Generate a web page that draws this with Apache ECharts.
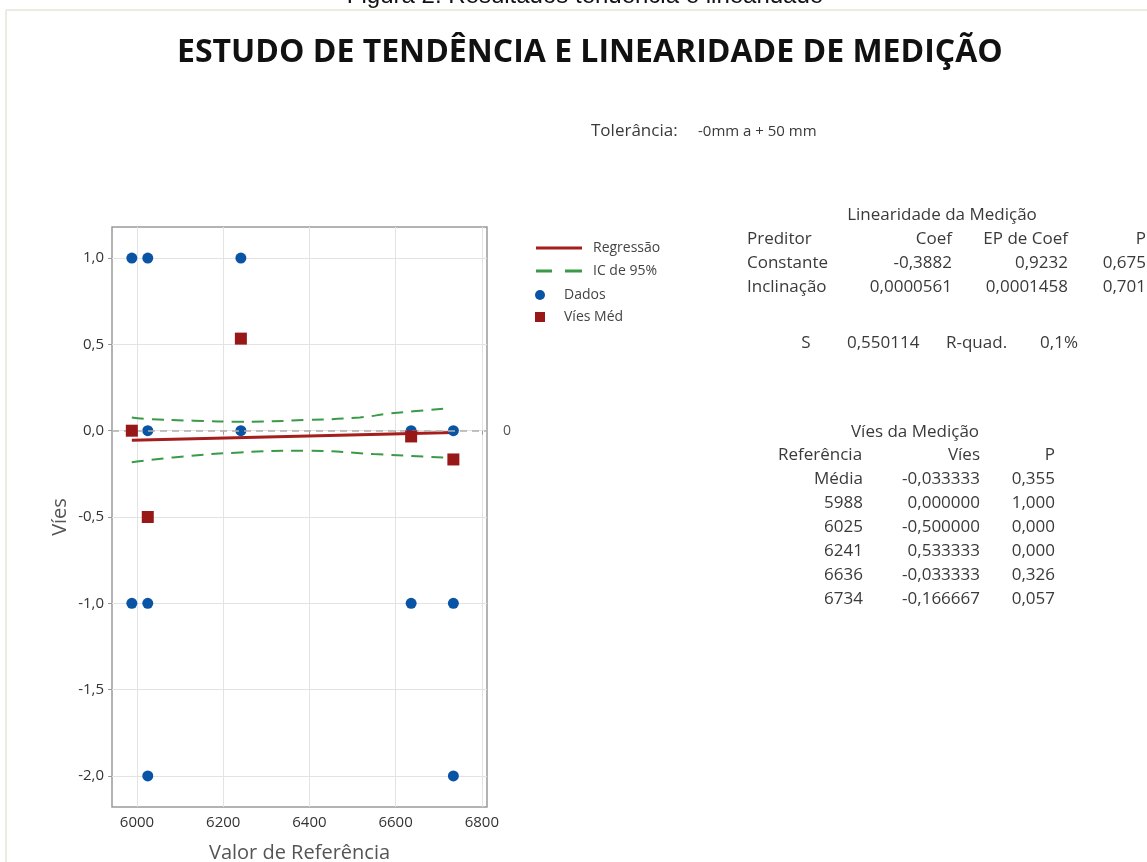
<!DOCTYPE html>
<html>
<head>
<meta charset="utf-8">
<script src="https://cdn.jsdelivr.net/npm/echarts@6/dist/echarts.min.js"></script>
<style>
  html, body { margin: 0; padding: 0; background: #fff; }
  #grafico { width: 1147px; height: 862px; }
</style>
</head>
<body>
<div id="grafico"></div>
<script>
// dados
var refValores = [5988, 6025, 6241, 6636, 6734]
var viesMedio = [0, -0.5, 0.533333, -0.033333, -0.166667]

var dadosX = [5988, 5988, 5988, 6025, 6025, 6025, 6025, 6241, 6241, 6636, 6636, 6734, 6734, 6734]
var dadosY = [1, 0, -1, 1, 0, -1, -2, 1, 0, 0, -1, 0, -1, -2]

// reta de regressao (pontas)
var regX = [5988, 6734]
var regY = [-0.055, -0.011]

// intervalo de confianca 95%
var icSupX = [5988, 6022, 6131, 6239, 6394, 6517, 6587, 6641, 6726]
var icSupY = [0.077, 0.068, 0.058, 0.052, 0.062, 0.077, 0.100, 0.112, 0.131]
var icInfX = [5988, 6084, 6239, 6394, 6548, 6726]
var icInfY = [-0.183, -0.155, -0.126, -0.116, -0.135, -0.158]

var ticksX = [6000, 6200, 6400, 6600, 6800]
var ticksY = [-2, -1.5, -1, -0.5, 0, 0.5, 1]

// tabelas de texto
var linCabecalho = ['Preditor', 'Coef', 'EP de Coef', 'P']
var linPreditor = ['Constante', 'Inclinação']
var linCoef = ['-0,3882', '0,0000561']
var linEP = ['0,9232', '0,0001458']
var linP = ['0,675', '0,701']

var viesRef = ['Média', '5988', '6025', '6241', '6636', '6734']
var viesVal = ['-0,033333', '0,000000', '-0,500000', '0,533333', '-0,033333', '-0,166667']
var viesP = ['0,355', '1,000', '0,000', '0,000', '0,326', '0,057']

function zip(a, b) {
  var r = []
  for (var i = 0; i < a.length; i++) r.push([a[i], b[i]])
  return r
}

var fonte = 'Open Sans'
var corTexto = '#3a3a3a'
var tam = 17

function txt(x, y, s, size, align, extra) {
  var o = {
    type: 'text', x: x, y: y, silent: true,
    style: { text: s, font: (size || tam) + 'px "' + fonte + '"', fill: corTexto, textAlign: align || 'left', textVerticalAlign: 'middle' }
  }
  if (extra) Object.assign(o.style, extra)
  return o
}

var graficos = []
// legenda da figura (cortada no topo) e moldura clara
graficos.push({
  type: 'text', x: 585, y: 8, silent: true,
  style: { text: 'Figura 2. Resultados tendência e linearidade', font: '24px "Liberation Sans"', fill: '#111', textAlign: 'center', textVerticalAlign: 'bottom' }
})
graficos.push({ type: 'rect', shape: { x: 0, y: 8, width: 1147, height: 5 }, style: { fill: '#fff' } })
graficos.push({ type: 'line', shape: { x1: 6, y1: 10, x2: 1147, y2: 10 }, style: { stroke: '#ecebe2', lineWidth: 2 } })
graficos.push({ type: 'line', shape: { x1: 6, y1: 10, x2: 6, y2: 862 }, style: { stroke: '#ecebe2', lineWidth: 2 } })
// tolerancia
graficos.push(txt(591, 131, 'Tolerância:', 17))
graficos.push(txt(698, 132, '-0mm a + 50 mm', 15))

// tabela linearidade
graficos.push(txt(942, 215, 'Linearidade da Medição', tam, 'center'))
graficos.push(txt(747, 239, linCabecalho[0]))
graficos.push(txt(952, 239, linCabecalho[1], tam, 'right'))
graficos.push(txt(1068, 239, linCabecalho[2], tam, 'right'))
graficos.push(txt(1146, 239, linCabecalho[3], tam, 'right'))
for (var i = 0; i < linPreditor.length; i++) {
  var yy = 263 + i * 24
  graficos.push(txt(747, yy, linPreditor[i]))
  graficos.push(txt(952, yy, linCoef[i], tam, 'right'))
  graficos.push(txt(1068, yy, linEP[i], tam, 'right'))
  graficos.push(txt(1146, yy, linP[i], tam, 'right'))
}
graficos.push(txt(806, 343, 'S', tam, 'center'))
graficos.push(txt(847, 343, '0,550114'))
graficos.push(txt(946, 343, 'R-quad.'))
graficos.push(txt(1078, 343, '0,1%', tam, 'right'))

// tabela vies
graficos.push(txt(915, 432, 'Víes da Medição', tam, 'center'))
graficos.push(txt(778, 455, 'Referência'))
graficos.push(txt(980, 455, 'Víes', tam, 'right'))
graficos.push(txt(1055, 455, 'P', tam, 'right'))
for (var j = 0; j < viesRef.length; j++) {
  var y2 = 479 + j * 24
  graficos.push(txt(863, y2, viesRef[j], tam, 'right'))
  graficos.push(txt(980, y2, viesVal[j], tam, 'right'))
  graficos.push(txt(1055, y2, viesP[j], tam, 'right'))
}

var myChart = echarts.init(document.getElementById('grafico'))

var option = {
  backgroundColor: '#fff',
  animation: false,
  title: {
    text: 'ESTUDO DE TENDÊNCIA E LINEARIDADE DE MEDIÇÃO',
    left: 172, top: 32,
    textStyle: { fontFamily: fonte, fontSize: 32, fontWeight: 'bold', color: '#111' }
  },
  legend: [{
    orient: 'vertical', left: 531, top: 236, itemWidth: 46, itemHeight: 10, itemGap: 9,
    data: [
      { name: 'Regressão', icon: 'path://M0,0h46v3h-46z' },
      { name: 'IC de 95%', icon: 'path://M0,0h16v3h-16z M29,0h17v3h-17z' }
    ],
    textStyle: { fontFamily: fonte, fontSize: 14, color: '#444', padding: [0, 0, 0, 6] }
  }, {
    orient: 'vertical', left: 530, top: 283, itemWidth: 10, itemHeight: 10, itemGap: 8,
    data: [{ name: 'Dados', icon: 'circle' }, { name: 'Víes Méd', icon: 'rect' }],
    textStyle: { fontFamily: fonte, fontSize: 14, color: '#444', padding: [0, 0, 0, 14] }
  }],
  grid: {
    left: 112, right: 660, top: 227, bottom: 55, outerBoundsMode: 'none',
    show: true, borderColor: '#9a9a9a', borderWidth: 1.5
  },
  xAxis: {
    type: 'value', min: 5942, max: 6812,
    name: 'Valor de Referência', nameLocation: 'middle', nameGap: 36,
    nameTextStyle: { fontFamily: fonte, fontSize: 20, color: '#555' },
    axisLine: { show: false },
    axisTick: { show: true, customValues: ticksX, length: 4, lineStyle: { color: '#999' } },
    axisLabel: {
      customValues: ticksX, fontFamily: fonte, fontSize: 15, color: '#333', margin: 8,
      formatter: function (v) { return String(v) }
    },
    splitLine: { show: true, lineStyle: { color: '#e3e3e3', width: 1 } }
  },
  yAxis: {
    type: 'value', min: -2.18, max: 1.18,
    name: 'Víes', nameLocation: 'middle', nameGap: 42, nameRotate: 90,
    nameTextStyle: { fontFamily: fonte, fontSize: 20, color: '#555' },
    axisLine: { show: false },
    axisTick: { show: true, customValues: ticksY, length: 4, lineStyle: { color: '#999' } },
    axisLabel: {
      customValues: ticksY, fontFamily: fonte, fontSize: 15, color: '#333', margin: 8,
      formatter: function (v) { return v.toFixed(1).replace('.', ',') }
    },
    splitLine: { show: true, lineStyle: { color: '#e3e3e3', width: 1 } }
  },
  graphic: graficos,
  series: [{
    name: 'IC de 95%', type: 'line', data: zip(icSupX, icSupY), smooth: true, symbol: 'none',
    lineStyle: { color: '#3a9a48', width: 2, type: [12, 8] }, itemStyle: { color: '#3a9a48' }, z: 2
  }, {
    name: 'IC de 95%', type: 'line', data: zip(icInfX, icInfY), smooth: true, symbol: 'none',
    lineStyle: { color: '#3a9a48', width: 2, type: [12, 8] }, itemStyle: { color: '#3a9a48' }, z: 2
  }, {
    name: 'Regressão', type: 'line', data: zip(regX, regY), symbol: 'none',
    lineStyle: { color: '#a51d1d', width: 3 }, itemStyle: { color: '#a51d1d' }, z: 3,
    markLine: {
      silent: true, symbol: 'none',
      lineStyle: { color: '#b0b0b0', type: [7, 5], width: 1.5 },
      label: { show: true, position: 'end', formatter: '0', distance: 16, fontFamily: fonte, fontSize: 14, color: '#555' },
      data: [{ yAxis: 0 }]
    }
  }, {
    name: 'Dados', type: 'scatter', data: zip(dadosX, dadosY), symbol: 'circle', symbolSize: 11,
    itemStyle: { color: '#0a54a6', opacity: 1 }, z: 4
  }, {
    name: 'Víes Méd', type: 'scatter', data: zip(refValores, viesMedio), symbol: 'rect', symbolSize: 12,
    itemStyle: { color: '#981818', opacity: 1 }, z: 5
  }]
}

myChart.setOption(option)
</script>
</body>
</html>
